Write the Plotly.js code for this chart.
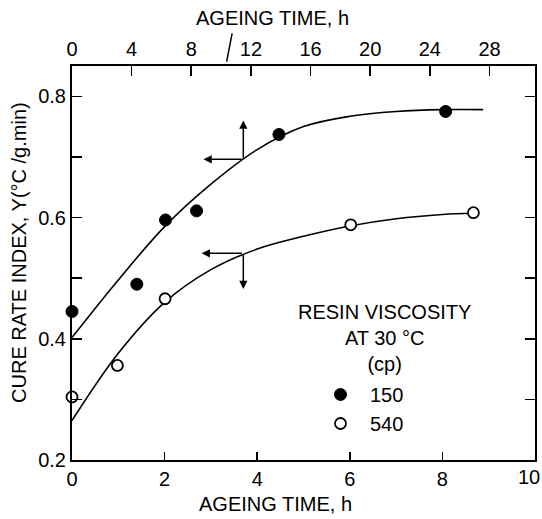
<!DOCTYPE html>
<html>
<head>
<meta charset="utf-8">
<script src="https://cdn.plot.ly/plotly-3.0.1.min.js"></script>
<style>html,body{margin:0;padding:0;background:#fff;}</style>
</head>
<body>
<div id="chart" style="width:542px;height:519px;"></div>
<script>
// Measured points (bottom axis: ageing time, h)
const x150 = [0, 1.40, 2.02, 2.69, 4.47, 8.07];
const y150 = [0.445, 0.490, 0.596, 0.611, 0.737, 0.775];
const x540 = [0, 0.98, 2.01, 6.02, 8.67];
const y540 = [0.304, 0.356, 0.466, 0.588, 0.608];
// Hand-drawn fitted curves
const fitX150 = [0, 1, 2, 3, 4, 5, 6, 7, 8, 8.88];
const fitY150 = [0.402, 0.497, 0.585, 0.655, 0.712, 0.750, 0.767, 0.775, 0.778, 0.778];
const fitX540 = [0, 1, 2, 3, 4, 5, 6, 7, 8, 8.67];
const fitY540 = [0.265, 0.376, 0.460, 0.514, 0.548, 0.569, 0.586, 0.598, 0.605, 0.607];
// Axis ticks (the last bottom label sits at the page edge and is drawn as an annotation)
const bottomTicks = [0, 2, 4, 6, 8, 10];
const bottomTickText = ['0', '2', '4', '6', '8', ''];
const bottomLastLabel = '10';
const topTicks = [0, 4, 8, 12, 16, 20, 24, 28];
const yTickVals = [0.2, 0.3, 0.4, 0.5, 0.6, 0.7, 0.8];
const yTickText = ['0.2', '', '0.4', '', '0.6', '', '0.8'];
// Axis-pointer arrows: [tailX, tailY, headX, headY]
const arrows = [
  [3.70, 0.696, 2.84, 0.696],
  [3.70, 0.696, 3.70, 0.760],
  [3.70, 0.541, 2.80, 0.541],
  [3.70, 0.541, 3.70, 0.482]
];
const legendTitle = 'RESIN VISCOSITY<br>AT 30 °C<br>(cp)';

const FONT = 'Liberation Sans, Arial, sans-serif';

const traces = [
  {x: fitX150, y: fitY150, mode: 'lines', line: {color: '#000', width: 1.6, shape: 'spline', smoothing: 1}, showlegend: false, hoverinfo: 'skip'},
  {x: fitX540, y: fitY540, mode: 'lines', line: {color: '#000', width: 1.6, shape: 'spline', smoothing: 1}, showlegend: false, hoverinfo: 'skip'},
  {x: x150, y: y150, mode: 'markers', name: '150', cliponaxis: false,
   marker: {symbol: 'circle', size: 12, color: '#000', line: {color: '#000', width: 1}}},
  {x: x540, y: y540, mode: 'markers', name: '540', cliponaxis: false,
   marker: {symbol: 'circle', size: 11, color: '#fff', line: {color: '#000', width: 1.8}}},
  {x: [], y: [], xaxis: 'x2', yaxis: 'y', showlegend: false, hoverinfo: 'skip'}
];

const annotations = arrows.map(a => ({
  x: a[2], y: a[3], ax: a[0], ay: a[1], xref: 'x', yref: 'y', axref: 'x', ayref: 'y',
  text: '', showarrow: true, arrowhead: 2, arrowsize: 1.1, arrowwidth: 1.5, arrowcolor: '#000', standoff: 0, startstandoff: 0
}));
annotations.push(
  {text: 'AGEING TIME, h', xref: 'paper', yref: 'paper', x: 0.432, y: 1.123, xanchor: 'center', yanchor: 'middle', showarrow: false, font: {family: FONT, size: 20, color: '#000'}},
  {text: 'AGEING TIME, h', xref: 'paper', yref: 'paper', x: 0.44, y: -0.112, xanchor: 'center', yanchor: 'middle', showarrow: false, font: {family: FONT, size: 20, color: '#000'}},
  {text: 'CURE RATE INDEX, Y(°C /g.min)', xref: 'paper', yref: 'paper', x: -0.1145, y: 0.528, xanchor: 'center', yanchor: 'middle', textangle: -90, showarrow: false, font: {family: FONT, size: 20, color: '#000'}},
  {text: legendTitle, xref: 'paper', yref: 'paper', x: 0.674, y: 0.4086, xanchor: 'center', yanchor: 'top', align: 'center', showarrow: false, font: {family: FONT, size: 20, color: '#000'}},
  {text: bottomLastLabel, xref: 'paper', yref: 'paper', x: (541 - 72) / 463, y: (460 - 477) / 394, xanchor: 'right', yanchor: 'middle', showarrow: false, borderpad: 0, font: {family: FONT, size: 20, color: '#000'}}
);

const layout = {
  width: 542, height: 519,
  margin: {l: 72, r: 7, t: 66, b: 59},
  paper_bgcolor: '#fff', plot_bgcolor: '#fff',
  font: {family: FONT, size: 20, color: '#000'},
  showlegend: true,
  legend: {
    x: (311 - 72) / 463, y: (460 - 375) / 394, xanchor: 'left', yanchor: 'top',
    bgcolor: 'rgba(0,0,0,0)', borderwidth: 0, itemwidth: 49,
    font: {family: FONT, size: 20}, tracegroupgap: 0
  },
  xaxis: {
    range: [0, 10], tickvals: bottomTicks, ticktext: bottomTickText, ticks: 'inside', ticklen: 8, tickwidth: 1.6, tickcolor: '#000',
    showline: true, linewidth: 2, linecolor: '#000', showgrid: false, zeroline: false,
    tickfont: {family: FONT, size: 20}
  },
  xaxis2: {
    overlaying: 'x', side: 'top', anchor: 'y', range: [0, 31.05], tickvals: topTicks,
    ticks: 'inside', ticklen: 10, tickwidth: 1.6, tickcolor: '#000',
    showline: true, linewidth: 2, linecolor: '#000', showgrid: false, zeroline: false,
    ticklabeloverflow: 'allow', tickfont: {family: FONT, size: 20}
  },
  yaxis: {
    range: [0.2, 0.85], tickvals: yTickVals, ticktext: yTickText, ticks: 'inside', ticklen: 10, tickwidth: 1.6,
    tickcolor: '#000', showline: true, linewidth: 2, linecolor: '#000', mirror: 'ticks',
    showgrid: false, zeroline: false, tickfont: {family: FONT, size: 20}
  },
  shapes: [
    {type: 'line', xref: 'x2', yref: 'paper', x0: 10.74, y0: 1.083, x1: 10.37, y1: 1.011, line: {color: '#000', width: 1.5}}
  ],
  annotations: annotations
};

Plotly.newPlot('chart', traces, layout, {displayModeBar: false, staticPlot: true});
</script>
</body>
</html>
